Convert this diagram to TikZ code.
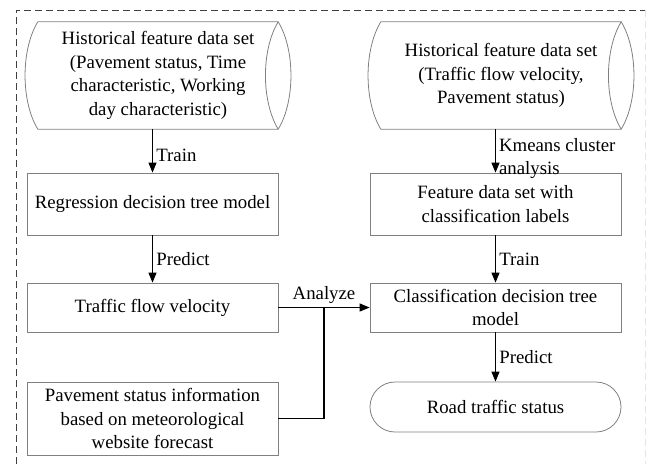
\documentclass[tikz,border=0pt]{standalone}
\usepackage{fontspec}
\setmainfont{Liberation Serif}
\usetikzlibrary{arrows.meta}

\tikzset{
  box/.style={draw=gray, line width=0.8pt, minimum width=251pt, align=center, inner sep=2pt},
  datastore/.style={minimum width=240pt, minimum height=107pt, align=center, inner sep=0pt},
  flowarrow/.style={-{Triangle[length=10pt,width=8pt]}, line width=1.1pt},
}

\begin{document}
\begin{tikzpicture}[x=1pt, y=-1pt, font=\fontsize{18.8}{23.5}\selectfont]
    \useasboundingbox (0,0) rectangle (646,464);

    % 虚线外框
    \draw[dash pattern=on 7pt off 4pt, darkgray, line width=0.8pt] (16,464) -- (16,10) -- (646,10);
    \draw[dash pattern=on 7pt off 4pt, gray!20] (645,10) -- (645,464);

    % 左列
    \node[datastore] (hist1) at (158,75.5) {Historical feature data set\\(Pavement status, Time\\characteristic, Working\\day characteristic)};
    \node[box, minimum height=62pt] (reg) at (152.5,204) {Regression decision tree model};
    \node[box, minimum height=49pt] (flow) at (152.5,307.5) {Traffic flow velocity};
    \node[box, minimum height=73pt] (pave) at (152.5,418.5) {Pavement status information\\based on meteorological\\website forecast};

    % 右列
    \node[datastore] (hist2) at (501,75.5) {Historical feature data set\\(Traffic flow velocity,\\Pavement status)};
    \node[box, minimum height=62pt] (feat) at (495.5,204) {Feature data set with\\classification labels};
    \node[box, minimum height=49pt] (cls) at (495.5,307.5) {Classification decision tree\\model};
    \node[box, minimum height=50pt, rounded corners=25pt] (road) at (495.5,407) {Road traffic status};

    % 数据存储形状的轮廓
    \foreach \n in {hist1,hist2}{
      \draw[gray, line width=0.8pt] (\n.north west) -- (\n.north east)
        .. controls +(17,28) and +(17,-28) .. (\n.south east)
        -- (\n.south west)
        .. controls +(-17,-28) and +(-17,28) .. (\n.north west);
      \draw[gray, line width=0.8pt] (\n.north east) .. controls +(-17,28) and +(-17,-28) .. (\n.south east);
    }

    % 箭头
    \draw[flowarrow] (reg.north |- hist1.south) -- (reg.north) node[pos=0.6, right] {Train};
    \draw[flowarrow] (reg.south) -- (flow.north) node[midway, right] {Predict};
    \draw[flowarrow] (feat.north |- hist2.south) -- (feat.north) node[pos=0.68, right, align=left, inner xsep=3pt] {Kmeans cluster\\analysis};
    \draw[flowarrow] (feat.south) -- (cls.north) node[midway, right] {Train};
    \draw[flowarrow] (cls.south) -- (road.north) node[midway, right] {Predict};

    % 分析连线
    \draw[flowarrow] (flow.east) -- coordinate (jn) (cls.west) node[midway, above] {Analyze};
    \draw[line width=1.1pt] (pave.east) -| (jn);
\end{tikzpicture}
\end{document}
